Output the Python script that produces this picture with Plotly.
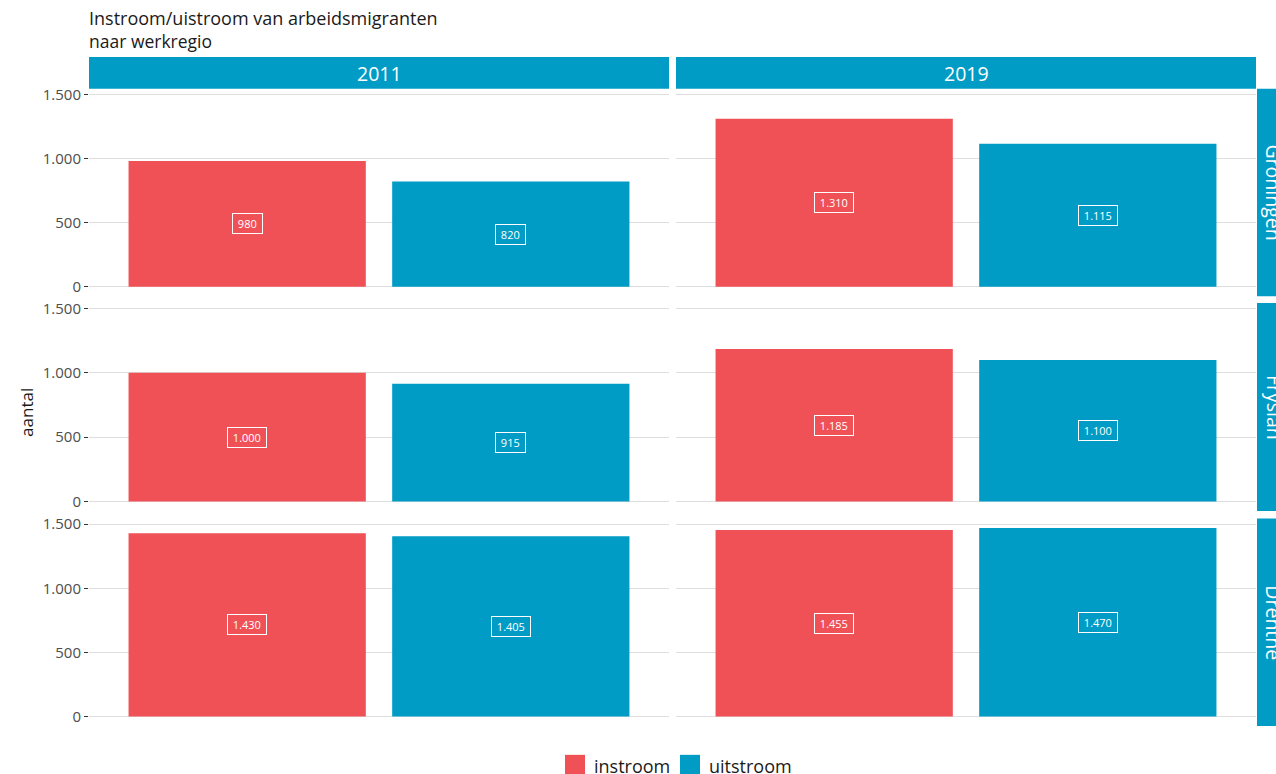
import plotly.graph_objects as go

W, H = 1276, 774

years = ["2011", "2019"]
regions = ["Groningen", "Fryslân", "Drenthe"]
flows = ["instroom", "uitstroom"]
instroom = {"2011": [980, 1000, 1430], "2019": [1310, 1185, 1455]}
uitstroom = {"2011": [820, 915, 1405], "2019": [1115, 1100, 1470]}
yticks = [0, 500, 1000, 1500]

RED = "#EF5157"
BLUE = "#009CC5"
FONT = "Open Sans"

col_px = [(89, 669), (676, 1256)]
row_px = [(87.7, 295.2), (302, 510), (517.7, 725.2)]


def px_x(p):
    return p / W


def px_y(p):
    q = (p - 3.97) / 0.9938
    return 1 - q / H


def fmt(v):
    return f"{v:,}".replace(",", ".")


fig = go.Figure()
annotations = []
shapes = []

idx = 0
for r, reg in enumerate(regions):
    for c, yr in enumerate(years):
        idx += 1
        xa = "x" if idx == 1 else f"x{idx}"
        ya = "y" if idx == 1 else f"y{idx}"
        vals = [instroom[yr][r], uitstroom[yr][r]]
        for f, v, col in zip(flows, vals, [RED, BLUE]):
            fig.add_trace(go.Bar(
                x=[f], y=[v], width=0.9, marker=dict(color=col, line=dict(width=0)),
                name=f, showlegend=False,
                xaxis=xa, yaxis=ya, hoverinfo="skip",
            ))
            annotations.append(dict(
                x=f, y=v / 2, xref=xa, yref=ya, text="&nbsp;" + fmt(v) + "&nbsp;", showarrow=False,
                font=dict(family=FONT, size=11, color="white"),
                bordercolor="white", borderwidth=1, borderpad=2, bgcolor=col,
            ))
        xd = [px_x(col_px[c][0]), px_x(col_px[c][1])]
        yd = [px_y(row_px[r][1]), px_y(row_px[r][0])]
        key = "" if idx == 1 else str(idx)
        fig.layout["xaxis" + key] = dict(
            domain=xd, anchor=ya, range=[-0.6, 1.6], showticklabels=False,
            showgrid=False, zeroline=False, ticks="", showline=False,
            type="category", fixedrange=True,
        )
        fig.layout["yaxis" + key] = dict(
            domain=yd, anchor=xa, range=[-73.5, 1543.5],
            tickvals=yticks, ticktext=[fmt(t) for t in yticks],
            showticklabels=(c == 0), ticks="outside" if c == 0 else "",
            ticklen=4, tickcolor="#333333", tickwidth=1,
            tickfont=dict(family=FONT, size=15, color="#4D4D4D"),
            showgrid=True, gridcolor="#DEDEDE", gridwidth=1,
            zeroline=False, showline=False, fixedrange=True,
        )

# top strips
for c, yr in enumerate(years):
    shapes.append(dict(type="rect", xref="paper", yref="paper",
                       x0=px_x(col_px[c][0]), x1=px_x(col_px[c][1]),
                       y0=px_y(87.7), y1=px_y(56), fillcolor=BLUE, line=dict(width=0), layer="below"))
    annotations.append(dict(x=px_x((col_px[c][0] + col_px[c][1]) / 2), y=px_y(72),
                            xref="paper", yref="paper", text=yr, showarrow=False,
                            font=dict(family=FONT, size=19.5, color="white"),
                            xanchor="center", yanchor="middle"))

# right strips
for r, reg in enumerate(regions):
    shapes.append(dict(type="rect", xref="paper", yref="paper",
                       x0=px_x(1257), x1=px_x(1290),
                       y0=px_y(row_px[r][1]), y1=px_y(row_px[r][0]),
                       fillcolor=BLUE, line=dict(width=0), layer="below"))
    annotations.append(dict(x=px_x(1274), y=px_y((row_px[r][0] + row_px[r][1]) / 2),
                            xref="paper", yref="paper", text=reg, showarrow=False, textangle=90,
                            font=dict(family=FONT, size=19.5, color="white"),
                            xanchor="center", yanchor="middle"))

# titles
annotations.append(dict(x=px_x(87), y=px_y(17), xref="paper", yref="paper",
                        text="Instroom/uistroom van arbeidsmigranten", showarrow=False,
                        xanchor="left", yanchor="middle",
                        font=dict(family=FONT, size=18, color="#1A1A1A")))
annotations.append(dict(x=px_x(87), y=px_y(40), xref="paper", yref="paper",
                        text="naar werkregio", showarrow=False,
                        xanchor="left", yanchor="middle",
                        font=dict(family=FONT, size=17.5, color="#1A1A1A")))
annotations.append(dict(x=px_x(27), y=px_y(412), xref="paper", yref="paper",
                        text="aantal", showarrow=False, textangle=-90,
                        xanchor="center", yanchor="middle",
                        font=dict(family=FONT, size=17, color="#1A1A1A")))

# legend (drawn manually so keys match reference size)
leg_items = [(flows[0], RED, 565, 592), (flows[1], BLUE, 680, 707)]
for name, col, kx, tx in leg_items:
    shapes.append(dict(type="rect", xref="paper", yref="paper",
                       x0=px_x(kx), x1=px_x(kx + 20), y0=px_y(776), y1=px_y(754),
                       fillcolor=col, line=dict(width=0)))
    annotations.append(dict(x=px_x(tx), y=px_y(765), xref="paper", yref="paper",
                            text=name, showarrow=False, xanchor="left", yanchor="middle",
                            font=dict(family=FONT, size=18, color="#1A1A1A")))

fig.update_layout(
    width=W, height=H, margin=dict(l=0, r=0, t=0, b=0),
    paper_bgcolor="white", plot_bgcolor="white",
    barmode="overlay", annotations=annotations, shapes=shapes,
    showlegend=False,
)

fig.write_html("out.html", config={"displayModeBar": False},
               post_script="document.body.style.margin='0';document.body.style.overflow='hidden';")
